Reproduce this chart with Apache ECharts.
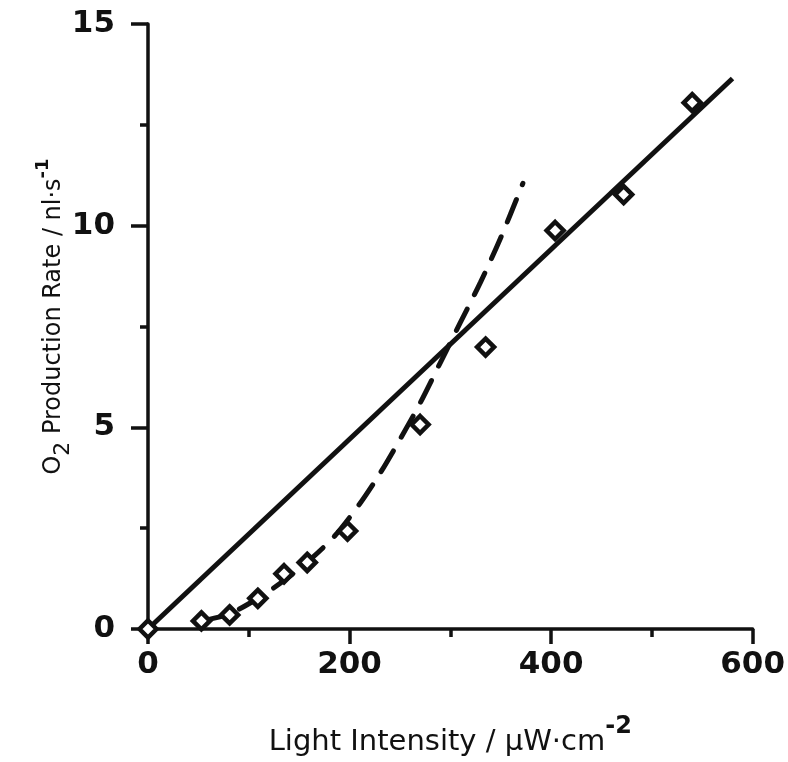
<!DOCTYPE html>
<html>
<head>
<meta charset="utf-8">
<script src="https://cdn.jsdelivr.net/npm/echarts@6/dist/echarts.min.js"></script>
<style>
html,body{margin:0;padding:0;background:#fff;overflow:hidden;}
#c{width:788px;height:762px;}
</style>
</head>
<body>
<div id="c"></div>
<script>
// Measured points: light intensity (µW/cm²) vs O2 production rate (nl/s)
const intensity = [0, 53, 81, 109, 135, 158, 198, 270, 335, 404, 472, 540];
const rate      = [0, 0.2, 0.35, 0.76, 1.37, 1.65, 2.43, 5.07, 6.99, 9.88, 10.77, 13.05];

// Solid straight line
const solidX = [0, 580];
const solidY = [0, 13.65];

// Dashed curve
const dashX = [53, 81, 109, 135, 160, 185, 210, 230, 250, 270, 290, 310, 330, 350, 372];
const dashY = [0.2, 0.38, 0.76, 1.2, 1.7, 2.3, 3.1, 3.85, 4.7, 5.6, 6.6, 7.6, 8.6, 9.7, 11.05];

const xTicks = [0, 200, 400, 600];
const yTicks = [0, 5, 10, 15];

const FONT = 'DejaVu Sans';
const ink = '#111';

const zip = (a, b) => a.map((v, i) => [v, b[i]]);

const chart = echarts.init(document.getElementById('c'));
chart.setOption({
  animation: false,
  backgroundColor: '#fff',
  grid: {left: 148, right: 22, top: 24, bottom: 109, containLabel: false},
  xAxis: {
    type: 'value', min: 0, max: 600, interval: 200,
    axisLine: {show: true, onZero: false, lineStyle: {color: ink, width: 3.5}},
    axisTick: {show: true, inside: false, length: 15, lineStyle: {color: ink, width: 3.5}},
    minorTick: {show: true, splitNumber: 2, length: 8, lineStyle: {color: ink, width: 3.5}},
    splitLine: {show: false},
    axisLabel: {
      margin: 20, color: ink, fontFamily: FONT, fontWeight: 'bold', fontSize: 31,
      formatter: v => xTicks.includes(v) ? String(v) : ''
    },
    name: '{a|Light Intensity / μW·cm}{sup|-2}',
    nameLocation: 'middle', nameGap: 86,
    nameTextStyle: {
      rich: {
        a: {fontFamily: FONT, fontSize: 29, color: ink, verticalAlign: 'bottom', lineHeight: 42},
        sup: {fontFamily: FONT, fontSize: 24, fontWeight: 'bold', color: ink, verticalAlign: 'top', lineHeight: 42}
      }
    }
  },
  yAxis: {
    type: 'value', min: 0, max: 15, interval: 5,
    axisLine: {show: true, onZero: false, lineStyle: {color: ink, width: 3.5}},
    axisTick: {show: true, inside: false, length: 17, lineStyle: {color: ink, width: 3.5}},
    minorTick: {show: true, splitNumber: 2, length: 8, lineStyle: {color: ink, width: 3.5}},
    splitLine: {show: false},
    axisLabel: {
      margin: 33, color: ink, fontFamily: FONT, fontWeight: 'bold', fontSize: 31,
      formatter: v => yTicks.includes(v) ? String(v) : ''
    },
    name: '{a|O}{sub|2}{a| Production Rate / nl·s}{sup|-1}',
    nameLocation: 'middle', nameGap: 74, nameRotate: 90,
    nameMoveOverlap: false,
    nameTextStyle: {
      padding: [0, 0, 0, 20],
      rich: {
        a: {fontFamily: FONT, fontSize: 24, color: ink, verticalAlign: 'middle', lineHeight: 40},
        sub: {fontFamily: FONT, fontSize: 22, color: ink, verticalAlign: 'bottom', lineHeight: 40},
        sup: {fontFamily: FONT, fontSize: 18, fontWeight: 'bold', color: ink, verticalAlign: 'top', lineHeight: 40}
      }
    }
  },
  series: [
    {
      type: 'line', data: zip(solidX, solidY), symbol: 'none',
      lineStyle: {color: ink, width: 5}, z: 2
    },
    {
      type: 'line', data: zip(dashX, dashY), symbol: 'none', smooth: 0.3,
      lineStyle: {color: ink, width: 5, type: [24, 16], cap: 'round'}, z: 3
    },
    {
      type: 'scatter', data: zip(intensity, rate), symbol: 'diamond', symbolSize: 17,
      itemStyle: {color: '#fff', borderColor: ink, borderWidth: 4.5, opacity: 1}, z: 5
    }
  ]
});
</script>
</body>
</html>
